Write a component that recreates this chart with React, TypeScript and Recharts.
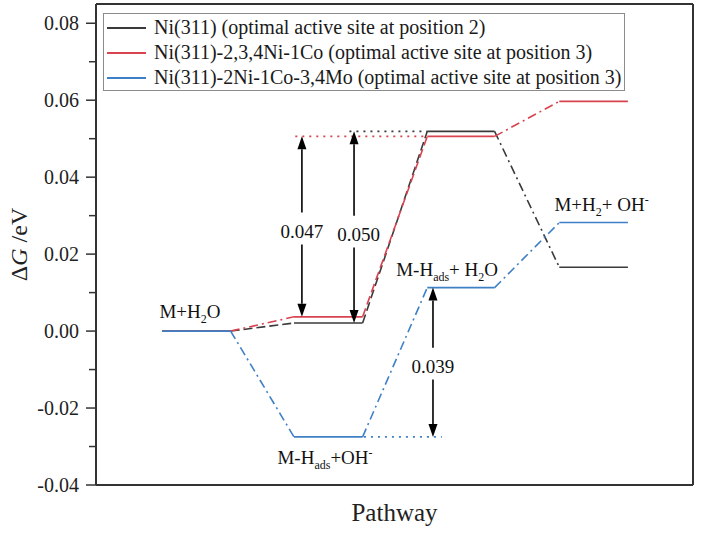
import React from 'react';
import { LineChart, Line, XAxis, YAxis, ReferenceLine, ReferenceDot, Legend, Label } from 'recharts';

const FONT = "'Liberation Serif', 'Times New Roman', Times, serif";
const fontStyle = { fontFamily: FONT };

// pathway levels (x extents of each state on the pathway axis)
const levelStarts = [0.5, 1.5, 2.51, 3.51];
const levelEnds = [1.02, 2.02, 3.02, 4.03];

// series
const seriesNames = [
  'Ni(311) (optimal active site at position 2)',
  'Ni(311)-2,3,4Ni-1Co (optimal active site at position 3)',
  'Ni(311)-2Ni-1Co-3,4Mo (optimal active site at position 3)',
];
const seriesColors = ['#3a3a3a', '#d9434f', '#3f7fc6'];
const niEnergies = [0, 0.0021, 0.0519, 0.0166];
const coEnergies = [0, 0.0037, 0.0506, 0.0597];
const moEnergies = [0, -0.0275, 0.0113, 0.0282];
const allEnergies = [niEnergies, coEnergies, moEnergies];
const connectorDashes = [
  ['9 4', '9 4', '9 4 2 4'],
  ['9 4 2 4', '9 4', '9 4 2 4'],
  ['9 4 2 4', '9 4 2 4', '9 4 2 4'],
];

// axes
const yTicks = [-0.04, -0.03, -0.02, -0.01, 0, 0.01, 0.02, 0.03, 0.04, 0.05, 0.06, 0.07, 0.08];
const xDomain = [0, 4.523];
const yDomain = [-0.04, 0.085];

// dotted guide lines (per series): level index and x extent
const guideLevel = [2, 2, 1];
const guideStartX = [1.92, 1.51, 2.03];
const guideEndX = [2.51, 2.51, 2.62];

// barrier arrows
const barrierLabels = ['0.047', '0.050', '0.039'];
const barrierSeries = [1, 0, 2];
const barrierFrom = [1, 1, 1];
const barrierTo = [2, 2, 2];
const barrierX = [1.56, 1.955, 2.553];
const barrierLabelX = [1.56, 1.99, 2.553];
const barrierLabelY = [0.0261, 0.0253, -0.009];
const gapAbove = 0.0047;
const gapBelow = 0.0036;

// state labels: parts [text, kind]
const stateLabelX = [0.712, 1.735, 2.66, 3.83];
const stateLabelY = [0.0053, -0.0328, 0.0162, 0.0331];
const stateLabels: [string, string][][] = [
  [['M+H', ''], ['2', 'sub'], ['O', '']],
  [['M-H', ''], ['ads', 'sub'], ['+OH', ''], ['-', 'sup']],
  [['M-H', ''], ['ads', 'sub'], ['+ H', ''], ['2', 'sub'], ['O', '']],
  [['M+H', ''], ['2', 'sub'], ['+ OH', ''], ['-', 'sup']],
];

const YTick = (props: any) => {
  const { x, y, payload } = props;
  const v = payload.value as number;
  const major = Math.abs(Math.round(v * 100)) % 2 === 0;
  return (
    <g>
      <line x1={x - (major ? 10 : 7)} x2={x} y1={y} y2={y} stroke="#333" strokeWidth={1.5} />
      {major && (
        <text x={x - 17} y={y} dy={7} textAnchor="end" fontSize={20} fill="#222" fontFamily={FONT} style={fontStyle}>
          {v.toFixed(2)}
        </text>
      )}
    </g>
  );
};

const arrowShape = (props: any) => {
  const { x1, y1, x2, y2 } = props;
  const dir = Math.sign(y2 - y1);
  const hl = 13;
  const hw = 4.5;
  return (
    <g>
      <line x1={x1} y1={y1} x2={x2} y2={y2 - dir * hl} stroke="#000" strokeWidth={1.6} />
      <polygon points={`${x2},${y2} ${x2 - hw},${y2 - dir * hl} ${x2 + hw},${y2 - dir * hl}`} fill="#000" />
    </g>
  );
};

const makeTextShape = (parts: [string, string][], size: number) => (props: any) => {
  const { cx, cy } = props;
  let shift = 0;
  const spans = parts.map(([t, kind], i) => {
    let target = 0;
    if (kind === 'sub') target = 5;
    if (kind === 'sup') target = -7;
    const dy = target - shift;
    shift = target;
    return (
      <tspan key={i} dy={dy} fontSize={kind ? size * 0.63 : size}>
        {t}
      </tspan>
    );
  });
  return (
    <text x={cx} y={cy + 7} textAnchor="middle" fontFamily={FONT} style={fontStyle} fontSize={size} fill="#111">
      {spans}
    </text>
  );
};

const renderLegend = () => (
  <div
    style={{
      boxSizing: 'border-box',
      width: 522,
      height: 78,
      border: '1px solid #8c8c8c',
      background: '#fff',
      paddingTop: 1,
      fontFamily: FONT,
      fontSize: 20,
      color: '#1a1a1a',
    }}
  >
    {seriesNames.map((n, i) => (
      <div key={n} style={{ display: 'flex', alignItems: 'center', height: 25, whiteSpace: 'nowrap' }}>
        <div style={{ marginLeft: 3, width: 39, borderTop: `2px solid ${seriesColors[i]}` }} />
        <span style={{ marginLeft: 8, fontFamily: FONT }}>{n}</span>
      </div>
    ))}
  </div>
);

const yTitle = (props: any) => {
  const vb = props.viewBox;
  const cy = vb.y + vb.height / 2;
  return (
    <text
      transform={`translate(19,${cy}) rotate(-90)`}
      textAnchor="middle"
      dy={8}
      fontSize={24}
      fontFamily={FONT}
      style={fontStyle}
      fill="#222"
    >
      <tspan>Δ</tspan>
      <tspan fontStyle="italic">G</tspan>
      <tspan> /eV</tspan>
    </text>
  );
};

const xTitle = (props: any) => {
  const vb = props.viewBox;
  return (
    <text
      x={vb.x + vb.width / 2}
      y={vb.y + 36}
      textAnchor="middle"
      fontSize={25}
      fontFamily={FONT}
      style={fontStyle}
      fill="#222"
    >
      Pathway
    </text>
  );
};

export default function App() {
  const lines: React.ReactNode[] = [];
  allEnergies.forEach((en, s) => {
    for (let i = 0; i < en.length; i++) {
      lines.push(
        <Line
          key={`lvl-${s}-${i}`}
          data={[
            { x: levelStarts[i], y: en[i] },
            { x: levelEnds[i], y: en[i] },
          ]}
          dataKey="y"
          stroke={seriesColors[s]}
          strokeWidth={1.6}
          dot={false}
          activeDot={false}
          legendType="none"
          isAnimationActive={false}
        />
      );
      if (i < en.length - 1) {
        lines.push(
          <Line
            key={`con-${s}-${i}`}
            data={[
              { x: levelEnds[i], y: en[i] },
              { x: levelStarts[i + 1], y: en[i + 1] },
            ]}
            dataKey="y"
            stroke={seriesColors[s]}
            strokeWidth={1.6}
            strokeDasharray={connectorDashes[s][i]}
            dot={false}
            activeDot={false}
            legendType="none"
            isAnimationActive={false}
          />
        );
      }
    }
  });

  return (
    <div style={{ position: 'absolute', left: 0, top: 0, background: '#fff', fontFamily: FONT }}>
      <LineChart width={703} height={534} margin={{ top: 4, right: 10, bottom: 0, left: 0 }} style={fontStyle}>
        <XAxis
          type="number"
          dataKey="x"
          domain={xDomain}
          allowDataOverflow
          ticks={[]}
          tick={false}
          tickLine={false}
          height={49}
          axisLine={{ stroke: '#333', strokeWidth: 2 }}
          label={<Label content={xTitle} />}
        />
        <YAxis
          type="number"
          dataKey="y"
          domain={yDomain}
          allowDataOverflow
          ticks={yTicks}
          interval={0}
          tickSize={0}
          tickMargin={0}
          tickLine={false}
          tick={YTick}
          width={96}
          axisLine={{ stroke: '#333', strokeWidth: 2 }}
          label={<Label content={yTitle} />}
        />
        <ReferenceLine y={yDomain[1]} stroke="#333" strokeWidth={2} />
        <ReferenceLine x={xDomain[1]} stroke="#333" strokeWidth={2} />
        {guideLevel.map((lv, s) => (
          <ReferenceLine
            key={`guide-${s}`}
            segment={[
              { x: guideStartX[s], y: allEnergies[s][lv] },
              { x: guideEndX[s], y: allEnergies[s][lv] },
            ]}
            stroke={seriesColors[s]}
            strokeWidth={1.6}
            strokeDasharray="2 5"
          />
        ))}
        {lines}
        {barrierLabels.map((lab, k) => {
          const en = allEnergies[barrierSeries[k]];
          return (
            <React.Fragment key={`bar-${k}`}>
              <ReferenceLine
                segment={[
                  { x: barrierX[k], y: barrierLabelY[k] + gapAbove },
                  { x: barrierX[k], y: en[barrierTo[k]] },
                ]}
                shape={arrowShape}
              />
              <ReferenceLine
                segment={[
                  { x: barrierX[k], y: barrierLabelY[k] - gapBelow },
                  { x: barrierX[k], y: en[barrierFrom[k]] },
                ]}
                shape={arrowShape}
              />
              <ReferenceDot
                x={barrierLabelX[k]}
                y={barrierLabelY[k]}
                r={1}
                shape={makeTextShape([[lab, '']], 19)}
              />
            </React.Fragment>
          );
        })}
        {stateLabels.map((parts, k) => (
          <ReferenceDot key={`st-${k}`} x={stateLabelX[k]} y={stateLabelY[k]} r={1} shape={makeTextShape(parts, 19)} />
        ))}
        <Legend
          layout="horizontal"
          verticalAlign="middle"
          align="center"
          wrapperStyle={{ position: 'absolute', left: 103, top: 13, width: 522, height: 78, margin: 0 }}
          content={renderLegend}
        />
      </LineChart>
    </div>
  );
}
